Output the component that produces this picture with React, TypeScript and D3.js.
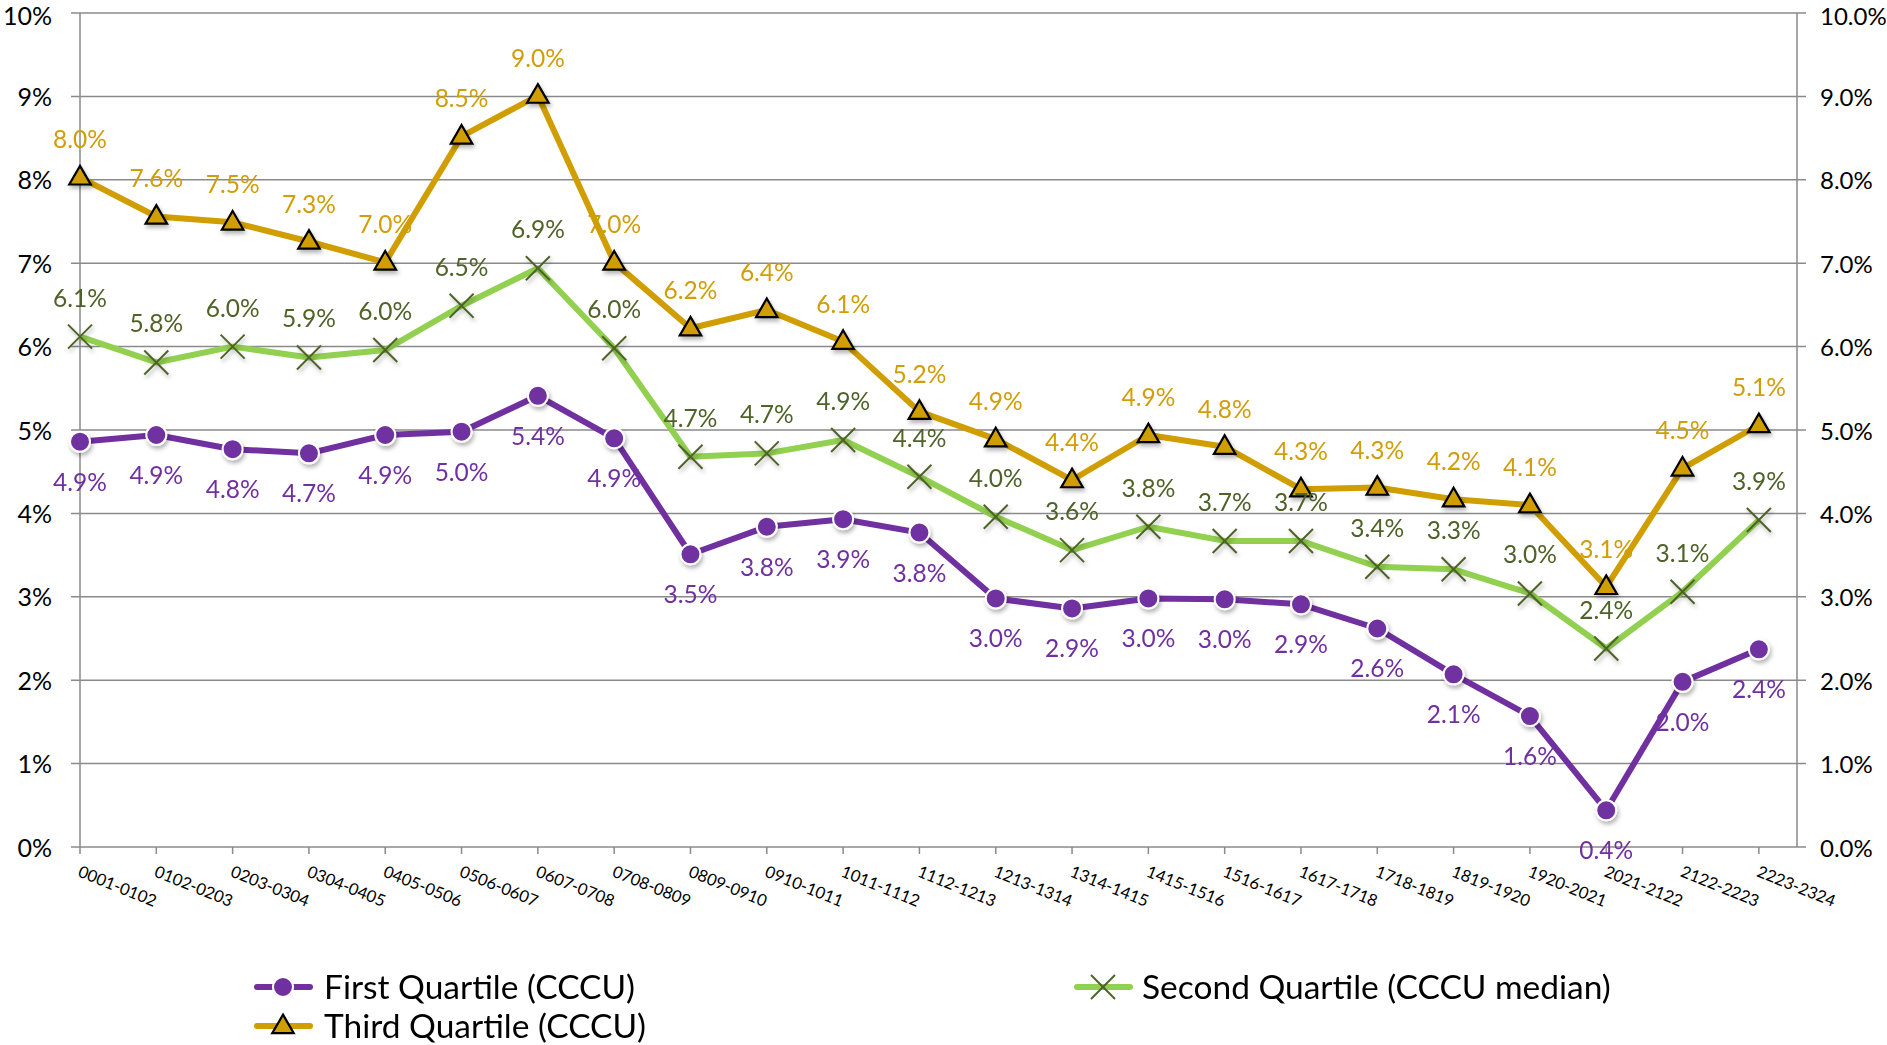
import React from "react";
import * as d3 from "d3";

const categories = ["0001-0102","0102-0203","0203-0304","0304-0405","0405-0506","0506-0607","0607-0708","0708-0809","0809-0910","0910-1011","1011-1112","1112-1213","1213-1314","1314-1415","1415-1516","1516-1617","1617-1718","1718-1819","1819-1920","1920-2021","2021-2122","2122-2223","2223-2324"];
const firstQuartile = [4.86,4.94,4.77,4.72,4.94,4.98,5.41,4.90,3.51,3.84,3.93,3.77,2.98,2.86,2.98,2.97,2.91,2.62,2.07,1.57,0.44,1.98,2.37];
const secondQuartile = [6.12,5.81,6.00,5.87,5.96,6.49,6.94,5.98,4.68,4.72,4.88,4.44,3.96,3.56,3.84,3.67,3.67,3.36,3.33,3.04,2.38,3.06,3.92];
const thirdQuartile = [8.03,7.56,7.49,7.26,7.01,8.52,9.01,7.01,6.22,6.44,6.06,5.22,4.89,4.40,4.94,4.80,4.29,4.31,4.17,4.10,3.12,4.54,5.06];
const leftTicks = [0,1,2,3,4,5,6,7,8,9,10];
const legendNames = ["First Quartile (CCCU)", "Second Quartile (CCCU median)", "Third Quartile (CCCU)"];

const FONT = "Lato, 'Open Sans', sans-serif";
const PURPLE = "#7030A0";
const GREEN = "#92D050";
const GREEN_DARK = "#4F6228";
const GOLD = "#D09E00";
const GOLD_TEXT = "#D19D08";
const GRID = "#8A8A8A";

export default function App() {
  const x = d3.scaleLinear().domain([0, 22.5]).range([80, 1797]);
  const y = d3.scaleLinear().domain([0, 10]).range([847, 13]);
  const line = d3.line<number>().x((_, i) => x(i)).y((d) => y(d));
  const tri = d3.symbol().type(d3.symbolTriangle).size(200)() as string;
  const tickBaseline = (t: number) => Math.max(y(t) + 9.5, 25);

  return (
    <svg width={1887} height={1045} style={{ position: "absolute", left: 0, top: 0, background: "#fff" }} fontFamily={FONT}>
      <defs>
        <filter id="sh" x="-50%" y="-50%" width="200%" height="200%">
          <feDropShadow dx="1.5" dy="3" stdDeviation="2" floodColor="#000" floodOpacity="0.3" />
        </filter>
      </defs>
      {/* gridlines */}
      {leftTicks.map((t) => (
        <g key={t}>
          <line x1={71} x2={1806} y1={y(t)} y2={y(t)} stroke={GRID} strokeWidth={1.5} />
          <text x={52} y={tickBaseline(t)} textAnchor="end" fontSize={25} fill="#000">{t}%</text>
          <text x={1820} y={tickBaseline(t)} textAnchor="start" fontSize={24} fill="#000">{t.toFixed(1)}%</text>
        </g>
      ))}
      {/* axes */}
      <line x1={x(0)} x2={x(0)} y1={y(10)} y2={y(0)} stroke={GRID} strokeWidth={1.5} />
      <line x1={1797} x2={1797} y1={y(10)} y2={y(0)} stroke={GRID} strokeWidth={1.5} />
      {categories.map((c, i) => (
        <g key={c}>
          <line x1={x(i)} x2={x(i)} y1={y(0)} y2={y(0) + 7} stroke={GRID} strokeWidth={1.5} />
          <text transform={`translate(${x(i) - 3},${y(0) + 29}) rotate(22)`} fontSize={16.5} fill="#000">{c}</text>
        </g>
      ))}
      {/* series lines */}
      <path d={line(firstQuartile) as string} fill="none" stroke={PURPLE} strokeWidth={6} strokeLinejoin="round" />
      <path d={line(secondQuartile) as string} fill="none" stroke={GREEN} strokeWidth={6} strokeLinejoin="round" />
      <path d={line(thirdQuartile) as string} fill="none" stroke={GOLD} strokeWidth={6} strokeLinejoin="round" />
      {/* markers */}
      <g filter="url(#sh)">
        {firstQuartile.map((v, i) => (
          <circle key={i} cx={x(i)} cy={y(v)} r={10} fill={PURPLE} stroke="#fff" strokeWidth={2} />
        ))}
      </g>
      <g filter="url(#sh)">
        {secondQuartile.map((v, i) => (
          <g key={i} transform={`translate(${x(i)},${y(v)})`} stroke={GREEN_DARK} strokeWidth={2}>
            <line x1={-12} y1={-12} x2={12} y2={12} />
            <line x1={-12} y1={12} x2={12} y2={-12} />
          </g>
        ))}
      </g>
      <g filter="url(#sh)">
        {thirdQuartile.map((v, i) => (
          <path key={i} d={tri} transform={`translate(${x(i)},${y(v) + 1})`} fill={GOLD} stroke="#000" strokeWidth={2.2} strokeLinejoin="miter" />
        ))}
      </g>
      {/* data labels */}
      {firstQuartile.map((v, i) => (
        <text key={"a" + i} x={x(i)} y={y(v) + 49} textAnchor="middle" fontSize={24.5} fill={PURPLE}>{v.toFixed(1)}%</text>
      ))}
      {secondQuartile.map((v, i) => (
        <text key={"b" + i} x={x(i)} y={y(v) - 30} textAnchor="middle" fontSize={24.5} fill={GREEN_DARK}>{v.toFixed(1)}%</text>
      ))}
      {thirdQuartile.map((v, i) => (
        <text key={"c" + i} x={x(i)} y={y(v) - 29} textAnchor="middle" fontSize={24.5} fill={GOLD_TEXT}>{v.toFixed(1)}%</text>
      ))}
      {/* legend */}
      <g>
        <line x1={257} x2={310} y1={987} y2={987} stroke={PURPLE} strokeWidth={6} strokeLinecap="round" />
        <circle cx={283} cy={987} r={10} fill={PURPLE} stroke="#fff" strokeWidth={2} />
        <text x={324} y={987} dy="0.36em" fontSize={33.5} fill="#000">{legendNames[0]}</text>

        <line x1={1077} x2={1130} y1={987} y2={987} stroke={GREEN} strokeWidth={6} strokeLinecap="round" />
        <g transform="translate(1103,987)" stroke={GREEN_DARK} strokeWidth={2}>
          <line x1={-12} y1={-12} x2={12} y2={12} />
          <line x1={-12} y1={12} x2={12} y2={-12} />
        </g>
        <text x={1142} y={987} dy="0.36em" fontSize={33.5} fill="#000">{legendNames[1]}</text>

        <line x1={257} x2={310} y1={1026} y2={1026} stroke={GOLD} strokeWidth={6} strokeLinecap="round" />
        <path d={tri} transform="translate(283,1027)" fill={GOLD} stroke="#000" strokeWidth={2.2} />
        <text x={324} y={1026} dy="0.36em" fontSize={33.5} fill="#000">{legendNames[2]}</text>
      </g>
    </svg>
  );
}
